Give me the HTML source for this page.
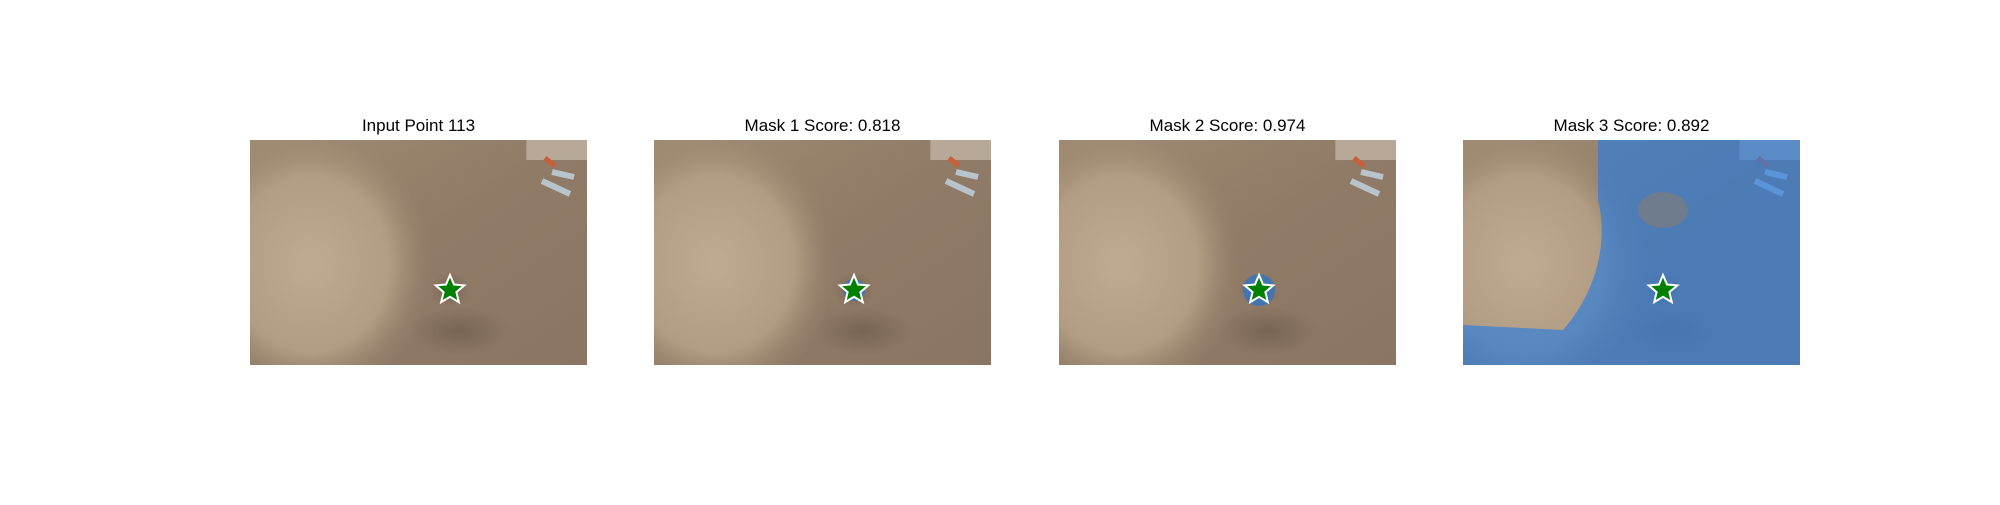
<!DOCTYPE html>
<html><head><meta charset="utf-8"><style>
body{margin:0;width:2000px;height:500px;background:#fff;overflow:hidden;font-family:"Liberation Sans","DejaVu Sans",sans-serif}
</style></head><body>
<svg id="fig" width="2000" height="500" xmlns="http://www.w3.org/2000/svg">
<defs>
<radialGradient id="tree" cx="0.3" cy="0.55" r="0.6"><stop offset="0" stop-color="#bfab92"/><stop offset="0.65" stop-color="#b29d84"/><stop offset="1" stop-color="#9c8870" stop-opacity="0"/></radialGradient>
<linearGradient id="ground" x1="0" y1="0" x2="1" y2="1"><stop offset="0" stop-color="#a08b72"/><stop offset="0.5" stop-color="#8f7b66"/><stop offset="1" stop-color="#8a7563"/></linearGradient>
<radialGradient id="shade" cx="0.5" cy="0.5" r="0.5"><stop offset="0" stop-color="#6b5848" stop-opacity="0.6"/><stop offset="1" stop-color="#6b5848" stop-opacity="0"/></radialGradient>
</defs>
</svg>
<script>
const titles=["Input Point 113","Mask 1 Score: 0.818","Mask 2 Score: 0.974","Mask 3 Score: 0.892"];
const panelLefts=[250,654,1059,1463];
const maskRadius=[0,11,16,0];
const NS="http://www.w3.org/2000/svg";
const svg=document.getElementById('fig');
const W=337,H=225,TOP=140,SX=200,SY=150;
function mk(t,a,p){const e=document.createElementNS(NS,t);for(const k in a)e.setAttribute(k,a[k]);(p||svg).appendChild(e);return e;}
function star(cx,cy,R,p){let pts=[];for(let i=0;i<10;i++){const r=i%2?R*0.45:R;const a=-Math.PI/2+i*Math.PI/5;pts.push((cx+r*Math.cos(a)).toFixed(1)+","+(cy+r*Math.sin(a)).toFixed(1));}return mk('polygon',{points:pts.join(' '),fill:'#008000',stroke:'#fff','stroke-width':2},p);}
titles.forEach((t,i)=>{
 const x=panelLefts[i];
 const g=mk('g',{});
 
 
 const tt=mk('text',{x:x+W/2,y:131,'text-anchor':'middle','font-size':17,fill:'#000'},g);tt.textContent=t;
 
 
 const img=mk('g',{},g);
 
 
 mk('rect',{x:x,y:TOP,width:W,height:H,fill:'url(#ground)'},img);
 mk('rect',{x:x,y:TOP,width:W*0.6,height:H,fill:'url(#tree)'},img);
 mk('ellipse',{cx:x+SX,cy:TOP+SY,rx:20,ry:18,fill:'url(#shade)'},img);
 mk('ellipse',{cx:x+W*0.62,cy:TOP+H*0.85,rx:50,ry:25,fill:'url(#shade)'},img);
 mk('rect',{x:x+W*0.82,y:TOP,width:W*0.18,height:20,fill:'#b7a898'},img);
 mk('line',{x1:x+292,y1:TOP+41,x2:x+320,y2:TOP+54,stroke:'#b8c4cc','stroke-width':6},img);
 mk('line',{x1:x+302,y1:TOP+32,x2:x+324,y2:TOP+37,stroke:'#b8c4cc','stroke-width':6},img);
 mk('line',{x1:x+295,y1:TOP+18,x2:x+305,y2:TOP+26,stroke:'#c8603c','stroke-width':5},img);
 if(maskRadius[i]>0){const m=mk('circle',{cx:x+SX,cy:TOP+SY,r:maskRadius[i],fill:'#1e78dc','fill-opacity':0.65},g);
  
  }
 if(i===3){const m=mk('path',{d:`M${x+135},${TOP} L${x+W},${TOP} L${x+W},${TOP+H} L${x+0},${TOP+H} L${x},${TOP+185} L${x+100},${TOP+190} C${x+135},${TOP+150} ${x+145},${TOP+100} ${x+135},${TOP+60} Z`,fill:'#2a7de0','fill-opacity':0.65},g);
  
  
  mk('ellipse',{cx:x+200,cy:TOP+70,rx:25,ry:18,fill:'#8f7b66','fill-opacity':0.5},g);}
 const s=star(x+SX,TOP+SY,15,g);
 
 
});
</script>
</body></html>
